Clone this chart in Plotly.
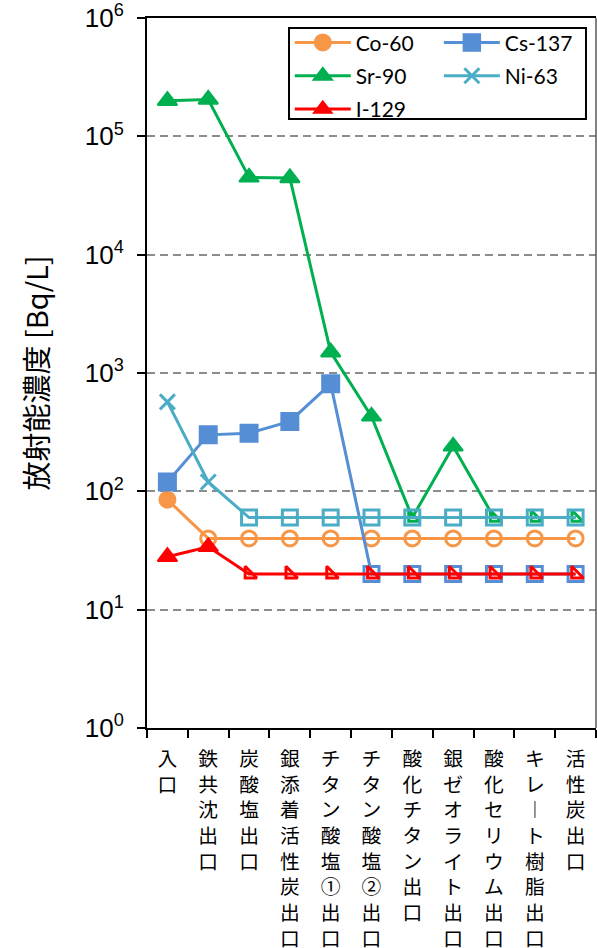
import plotly.graph_objects as go

# Treatment stages (sampling points along the process train)
stages = ["入口", "鉄共沈出口", "炭酸塩出口", "銀添着活性炭出口", "チタン酸塩①出口",
          "チタン酸塩②出口", "酸化チタン出口", "銀ゼオライト出口", "酸化セリウム出口",
          "キレート樹脂出口", "活性炭出口"]

# Activity concentration [Bq/L]; *_detected = False means the value is a detection limit
co60 = [85, 40, 40, 40, 40, 40, 40, 40, 40, 40, 40]
co60_detected = [True, False, False, False, False, False, False, False, False, False, False]

cs137 = [120, 300, 310, 390, 810, 20, 20, 20, 20, 20, 20]
cs137_detected = [True, True, True, True, True, False, False, False, False, False, False]

sr90 = [200000, 205000, 45000, 44500, 1500, 430, 60, 240, 60, 60, 60]
sr90_detected = [True, True, True, True, True, True, False, True, False, False, False]

ni63 = [570, 120, 60, 60, 60, 60, 60, 60, 60, 60, 60]
ni63_detected = [True, True, False, False, False, False, False, False, False, False, False]

i129 = [28, 34, 20, 20, 20, 20, 20, 20, 20, 20, 20]
i129_detected = [True, True, False, False, False, False, False, False, False, False, False]

y_tickvals = [1, 10, 100, 1000, 10000, 100000, 1000000]
y_ticktext = ["10<sup>0</sup>", "10<sup>1</sup>", "10<sup>2</sup>", "10<sup>3</sup>",
              "10<sup>4</sup>", "10<sup>5</sup>", "10<sup>6</sup>"]

CJK = "Noto Sans CJK JP"


def vertical(label):
    # stack characters one per line; long vowel mark gets its vertical form
    return "<br>".join("︱" if ch == "ー" else ch for ch in label)


series = [
    # name, values, detected flags, colour, detected symbol, ND symbol, sizes, legend
    ("Co-60", co60, co60_detected, "#F79646", "circle", "circle-open", (16, 15), "legend"),
    ("Cs-137", cs137, cs137_detected, "#558ED5", "square", "square-open", (17, 15), "legend2"),
    ("Sr-90", sr90, sr90_detected, "#00B050", "triangle-up", "triangle-sw-open", (17, 12), "legend"),
    ("Ni-63", ni63, ni63_detected, "#4BACC6", "x-thin", "square-open", (15, 15), "legend2"),
    ("I-129", i129, i129_detected, "#FF0000", "triangle-up", "triangle-sw-open", (17, 13), "legend"),
]

fig = go.Figure()
for name, vals, det, color, sym_d, sym_nd, (sz_d, sz_nd), leg in series:
    symbols = [sym_d if d else sym_nd for d in det]
    sizes = [sz_d if d else sz_nd for d in det]
    lw = 3 if (sym_d == "x-thin") else 2
    fig.add_trace(go.Scatter(
        x=stages, y=vals, name=name, mode="lines+markers",
        line=dict(color=color, width=3),
        marker=dict(symbol=symbols, size=sizes, color=color, opacity=1,
                    line=dict(color=color, width=[lw if d else 3 for d in det])),
        legend=leg, legendgroup=name,
    ))

legend_style = dict(
    font=dict(family="Lato", size=21, color="#000000"),
    bgcolor="rgba(0,0,0,0)", borderwidth=0, itemwidth=56,
    yanchor="top", xanchor="left", tracegroupgap=3,
)

fig.update_layout(
    width=597, height=948,
    margin=dict(l=147, r=1, t=18, b=220),
    plot_bgcolor="#FFFFFF", paper_bgcolor="#FFFFFF",
    legend=dict(x=0.318, y=0.994, **legend_style),
    legend2=dict(x=0.650, y=0.994, **legend_style),
    xaxis=dict(
        type="category", tickson="boundaries", range=[-0.5, len(stages) - 0.5],
        tickmode="array", tickvals=stages, ticktext=[vertical(s) for s in stages],
        tickfont=dict(family=CJK, size=19.8, color="#000000"),
        tickangle=0, ticks="outside", ticklen=8, tickwidth=2, tickcolor="#000000",
        showline=True, linecolor="#000000", linewidth=2, mirror=True,
        showgrid=False, zeroline=False, automargin=False, ticklabelstandoff=12,
    ),
    yaxis=dict(
        type="log", range=[0, 6],
        tickmode="array", tickvals=y_tickvals, ticktext=y_ticktext,
        tickfont=dict(family="Liberation Sans", size=26, color="#000000"),
        ticks="outside", ticklen=8, tickwidth=2, tickcolor="#000000",
        showline=True, linecolor="#000000", linewidth=2,
        showgrid=True, gridcolor="#8C8C8C", gridwidth=2, griddash="8px,5px",
        zeroline=False, automargin=False, ticklabelstandoff=8,
        title=dict(text="放射能濃度 [Bq/L]", font=dict(family=CJK, size=29, color="#000000"),
                   standoff=28),
    ),
    shapes=[
        # legend frame
        dict(type="rect", xref="paper", yref="paper",
             x0=0.3163, x1=0.9777, y0=0.8577, y1=0.9859,
             line=dict(color="#000000", width=2), fillcolor="rgba(0,0,0,0)", layer="above"),
        # right-hand frame of the plotting area
        dict(type="line", xref="paper", yref="paper", x0=1, x1=1, y0=0, y1=1,
             line=dict(color="#595959", width=1.5)),
    ],
)

fig.write_html("out.html")
